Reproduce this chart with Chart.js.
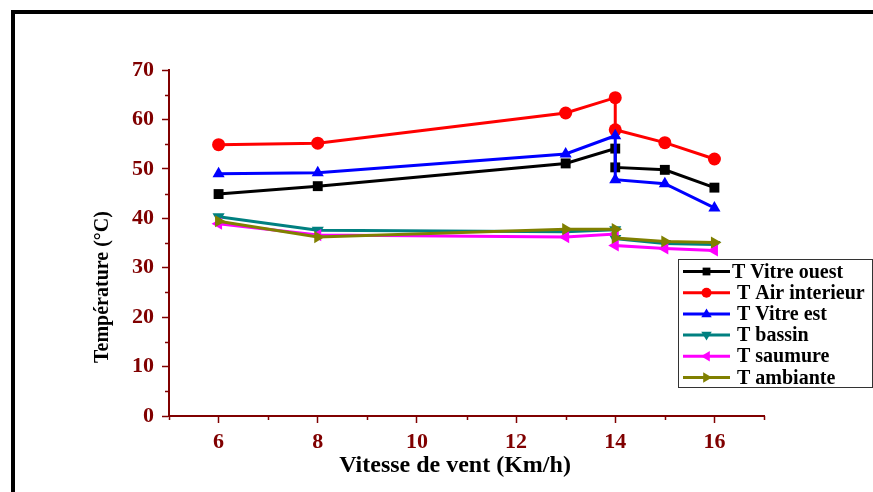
<!DOCTYPE html>
<html>
<head>
<meta charset="utf-8">
<title>Température vs vitesse de vent</title>
<script src="https://cdn.jsdelivr.net/npm/chart.js@4.4.1/dist/chart.umd.min.js"></script>
<style>
  html, body { margin: 0; padding: 0; background: #fff; overflow: hidden; }
  #wrap { position: relative; width: 873px; height: 492px; }
  #frame {
    position: absolute; left: 11px; top: 10px; width: 900px; height: 520px;
    border-left: 4px solid #000; border-top: 4px solid #000; pointer-events: none;
  }
  canvas { position: absolute; left: 0; top: 0; }
</style>
</head>
<body>
<div id="wrap">
  <canvas id="chart" width="873" height="492"></canvas>
  <div id="frame"></div>
</div>
<script>
const windSpeed = [6, 8, 13, 14, 14, 15, 16];
const tVitreOuest = [44.9, 46.5, 51.1, 54.1, 50.3, 49.8, 46.2];
const tAirInterieur = [54.9, 55.2, 61.3, 64.4, 57.9, 55.3, 52.0];
const tVitreEst = [49.0, 49.2, 53.0, 56.7, 47.8, 47.0, 42.1];
const tBassin = [40.3, 37.6, 37.3, 37.7, 35.9, 34.9, 34.7];
const tSaumure = [38.9, 36.6, 36.2, 36.8, 34.5, 33.9, 33.5];
const tAmbiante = [39.4, 36.2, 37.8, 37.8, 36.0, 35.3, 35.1];

const seriesLabels = ["T Vitre ouest", "T Air interieur", "T Vitre est", "T bassin", "T saumure", "T ambiante"];
const seriesValues = [tVitreOuest, tAirInterieur, tVitreEst, tBassin, tSaumure, tAmbiante];
const seriesColors = ["#000000", "#ff0000", "#0000ff", "#008080", "#ff00ff", "#808000"];
const seriesMarkers = ["rect", "circle", "triangle", "triangle", "triangle", "triangle"];
const seriesRotation = [0, 0, 0, 180, -90, 90];
const seriesRadius = [7, 6.5, 7, 7, 7, 7];

const xTitle = "Vitesse de vent (Km/h)";
const yTitle = "Température (°C)";

const AXIS_RED = "#800000";
const SERIF = "'Liberation Serif', 'Times New Roman', serif";

function toPoints(values) {
  return values.map((v, i) => ({ x: windSpeed[i], y: v }));
}

const datasets = seriesLabels.map((label, i) => ({
  label,
  data: toPoints(seriesValues[i]),
  borderColor: seriesColors[i],
  backgroundColor: seriesColors[i],
  borderWidth: 3,
  pointStyle: seriesMarkers[i],
  rotation: seriesRotation[i],
  pointRadius: seriesRadius[i],
  pointBorderWidth: 0,
  tension: 0,
  fill: false,
  order: seriesLabels.length - i,
}));

function markerPath(ctx, style, rotation, r, x, y) {
  ctx.save();
  ctx.translate(x, y);
  ctx.rotate(rotation * Math.PI / 180);
  ctx.beginPath();
  if (style === "rect") {
    const s = r * Math.SQRT1_2;
    ctx.rect(-s, -s, 2 * s, 2 * s);
  } else if (style === "circle") {
    ctx.arc(0, 0, r, 0, Math.PI * 2);
  } else {
    ctx.moveTo(0, -r);
    ctx.lineTo(r * 0.95, r * 0.6);
    ctx.lineTo(-r * 0.95, r * 0.6);
    ctx.closePath();
  }
  ctx.fill();
  ctx.restore();
}

// minor ticks (every 5 deg and every 1 km/h) on the axes
const minorTicks = {
  id: "minorTicks",
  afterDraw(chart) {
    const { ctx } = chart;
    const xs = chart.scales.x;
    const ys = chart.scales.y;
    ctx.save();
    ctx.strokeStyle = AXIS_RED;
    ctx.lineWidth = 1.5;
    ctx.beginPath();
    for (let v = 5; v <= 17; v += 2) {
      const px = Math.round(xs.getPixelForValue(v)) + 0.5;
      ctx.moveTo(px, ys.bottom);
      ctx.lineTo(px, ys.bottom + 4);
    }
    for (let v = 5; v < 70; v += 10) {
      const py = Math.round(ys.getPixelForValue(v)) + 0.5;
      ctx.moveTo(xs.left, py);
      ctx.lineTo(xs.left - 4, py);
    }
    ctx.stroke();
    ctx.restore();
  },
};

// axis titles sit a bit off the axis centre in the original
const axisTitles = {
  id: "axisTitles",
  afterDraw(chart) {
    const { ctx } = chart;
    ctx.save();
    ctx.fillStyle = "#000000";
    ctx.textAlign = "center";
    ctx.textBaseline = "middle";
    ctx.font = `bold 24px ${SERIF}`;
    ctx.fillText(xTitle, 455, 466);
    ctx.translate(103, 287);
    ctx.rotate(-Math.PI / 2);
    ctx.font = `bold 20px ${SERIF}`;
    ctx.fillText(yTitle, 0, 0);
    ctx.restore();
  },
};

const boxLegend = {
  id: "boxLegend",
  afterDraw(chart) {
    const { ctx } = chart;
    const box = { x: 678.5, y: 259.5, w: 194, h: 128 };
    ctx.save();
    ctx.fillStyle = "#ffffff";
    ctx.fillRect(box.x, box.y, box.w, box.h);
    ctx.strokeStyle = "#333333";
    ctx.lineWidth = 1;
    ctx.strokeRect(box.x, box.y, box.w, box.h);
    ctx.font = `bold 20px ${SERIF}`;
    ctx.textBaseline = "middle";
    ctx.textAlign = "left";
    seriesLabels.forEach((label, i) => {
      const cy = 271.5 + i * 21.2;
      ctx.strokeStyle = seriesColors[i];
      ctx.fillStyle = seriesColors[i];
      ctx.lineWidth = 3;
      ctx.beginPath();
      ctx.moveTo(683, cy);
      ctx.lineTo(730, cy);
      ctx.stroke();
      markerPath(ctx, seriesMarkers[i], seriesRotation[i], seriesRadius[i] - 1.5, 706.5, cy);
      ctx.fillStyle = "#000000";
      ctx.fillText(label, i === 0 ? 732 : 737, cy + 1);
    });
    ctx.restore();
  },
};

new Chart(document.getElementById("chart"), {
  type: "line",
  data: { datasets },
  plugins: [minorTicks, axisTitles, boxLegend],
  options: {
    responsive: false,
    animation: false,
    events: [],
    layout: { padding: { top: 70, right: 109, left: 0, bottom: 0 } },
    plugins: {
      legend: { display: false },
      tooltip: { enabled: false },
    },
    scales: {
      x: {
        type: "linear",
        min: 5,
        max: 17,
        afterFit(scale) { scale.height = 76; },
        border: { display: true, color: AXIS_RED, width: 2 },
        grid: {
          drawOnChartArea: false,
          drawTicks: true,
          tickLength: 7,
          tickWidth: 1.5,
          color: (c) => (c.tick && c.tick.value % 2 === 0 ? AXIS_RED : "rgba(0,0,0,0)"),
        },
        ticks: {
          stepSize: 1,
          padding: 6,
          autoSkip: false,
          maxRotation: 0,
          color: AXIS_RED,
          font: { family: SERIF, size: 22, weight: "bold" },
          callback: (v) => (v % 2 === 0 ? String(v) : ""),
        },
      },
      y: {
        type: "linear",
        min: 0,
        max: 70,
        afterFit(scale) { scale.width = 169; },
        border: { display: true, color: AXIS_RED, width: 2 },
        grid: {
          drawOnChartArea: false,
          drawTicks: true,
          tickLength: 7,
          tickWidth: 1.5,
          color: (c) => (c.tick && c.tick.value % 10 === 0 ? AXIS_RED : "rgba(0,0,0,0)"),
        },
        ticks: {
          stepSize: 10,
          padding: 8,
          color: AXIS_RED,
          font: { family: SERIF, size: 22, weight: "bold" },
        },
      },
    },
  },
});
</script>
</body>
</html>
